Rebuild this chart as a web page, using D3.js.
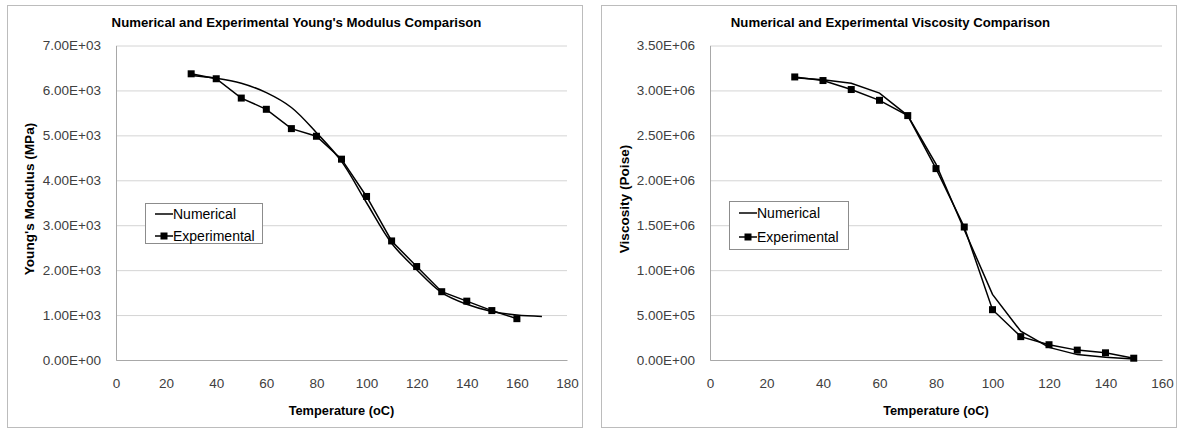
<!DOCTYPE html>
<html>
<head>
<meta charset="utf-8">
<script src="https://cdn.jsdelivr.net/npm/d3@7"></script>
<style>
  body { margin: 0; background: #fff; }
  svg { font-family: "Liberation Sans", Arial, sans-serif; }
  .titulo { font-weight: bold; font-size: 13.2px; fill: #000; }
  .tituloEixo { font-weight: bold; font-size: 12.8px; fill: #000; }
  .tituloEixoY { font-size: 13.6px; }
  .legenda text { font-size: 14px; fill: #000; }
</style>
</head>
<body>
<svg id="grafico"></svg>
<script>
// Young's modulus (MPa)
const tempExpModulo = [30, 40, 50, 60, 70, 80, 90, 100, 110, 120, 130, 140, 150, 160];
const moduloExp = [6370, 6260, 5830, 5580, 5150, 4980, 4470, 3640, 2650, 2080, 1520, 1310, 1100, 920];
const tempNumModulo = [30, 40, 50, 60, 70, 80, 90, 100, 110, 120, 130, 140, 150, 160, 170];
const moduloNum = [6330, 6270, 6160, 5950, 5620, 5060, 4420, 3500, 2600, 2010, 1500, 1240, 1080, 1000, 970];

// Viscosity (Poise)
const tempExpVisc = [30, 40, 50, 60, 70, 80, 90, 100, 110, 120, 130, 140, 150];
const viscExp = [3.15e6, 3.11e6, 3.01e6, 2.89e6, 2.72e6, 2.13e6, 1.48e6, 5.6e5, 2.6e5, 1.7e5, 1.1e5, 8.0e4, 2.0e4];
const tempNumVisc = [30, 40, 50, 60, 70, 80, 90, 100, 110, 120, 130, 140, 150];
const viscNum = [3.14e6, 3.12e6, 3.08e6, 2.97e6, 2.72e6, 2.18e6, 1.45e6, 7.3e5, 3.2e5, 1.4e5, 6.0e4, 3.0e4, 1.0e4];

const ticksXModulo = [0, 20, 40, 60, 80, 100, 120, 140, 160, 180];
const ticksYModulo = [0, 1000, 2000, 3000, 4000, 5000, 6000, 7000];
const ticksXVisc = [0, 20, 40, 60, 80, 100, 120, 140, 160];
const ticksYVisc = [0, 5e5, 1e6, 1.5e6, 2e6, 2.5e6, 3e6, 3.5e6];

const nomesSeries = ['Numerical', 'Experimental'];

function formataE(v) {
  const partes = v.toExponential(2).split('e');
  const sinal = partes[1][0];
  const exp = partes[1].slice(1).padStart(2, '0');
  return partes[0] + 'E' + sinal + exp;
}

const svg = d3.select('#grafico').attr('width', 1181).attr('height', 430);

function ajustaTexto(s) {
  s.attr('font-family', null).attr('font-size', null);
  s.selectAll('text').attr('font-size', 13.5).attr('fill', '#404040');
}

function criaGrafico(p) {
  const g = svg.append('g');

  // moldura
  g.append('rect')
    .attr('x', p.moldura[0] + .5).attr('y', 5.5)
    .attr('width', p.moldura[1] - p.moldura[0]).attr('height', 422)
    .attr('fill', '#fff').attr('stroke', '#bcbcbc');

  const x = d3.scaleLinear().domain([0, d3.max(p.ticksX)]).range([p.esquerda, p.direita]);
  const y = d3.scaleLinear().domain([0, d3.max(p.ticksY)]).range([360, 45.5]);

  const grade = d3.axisLeft(y).tickValues(p.ticksY).tickSize(-(p.direita - p.esquerda)).tickFormat('');
  g.append('g').attr('transform', `translate(${p.esquerda},0)`).call(grade)
    .call(s => s.select('.domain').remove())
    .call(s => s.selectAll('line').attr('stroke', '#d4d4d4'));

  const eixoY = d3.axisLeft(y).tickValues(p.ticksY).tickSize(0).tickPadding(15).tickFormat(formataE);
  g.append('g').attr('transform', `translate(${p.esquerda},0)`).call(eixoY)
    .call(s => s.select('.domain').attr('stroke', '#a8a8a8'))
    .call(ajustaTexto);

  const eixoX = d3.axisBottom(x).tickValues(p.ticksX).tickSize(0).tickPadding(18).tickFormat(d3.format('d'));
  g.append('g').attr('transform', 'translate(0,360)').call(eixoX)
    .call(s => s.select('.domain').attr('stroke', '#a8a8a8'))
    .call(ajustaTexto);

  const num = p.tempNum.map((t, i) => [t, p.valNum[i]]);
  const exp = p.tempExp.map((t, i) => [t, p.valExp[i]]);

  const linhaNum = d3.line().x(d => x(d[0])).y(d => y(d[1]))
    .curve(p.suave ? d3.curveCatmullRom.alpha(.5) : d3.curveLinear);
  const linhaExp = d3.line().x(d => x(d[0])).y(d => y(d[1]));

  g.append('path').datum(num)
    .attr('d', linhaNum)
    .attr('fill', 'none').attr('stroke', '#000').attr('stroke-width', 1.5);

  g.append('path').datum(exp)
    .attr('d', linhaExp)
    .attr('fill', 'none').attr('stroke', '#000').attr('stroke-width', 1.5);

  g.selectAll('.marca').data(exp).enter().append('rect')
    .classed('marca', true)
    .attr('x', d => x(d[0]) - 3.5).attr('y', d => y(d[1]) - 3.5)
    .attr('width', 7).attr('height', 7).attr('fill', '#000');

  // titulos
  g.append('text').classed('titulo', true)
    .attr('x', (p.moldura[0] + p.moldura[1]) / 2 + 2).attr('y', 27)
    .style('text-anchor', 'middle').text(p.titulo);

  g.append('text').classed('tituloEixo', true)
    .attr('x', (p.esquerda + p.direita) / 2).attr('y', 415)
    .style('text-anchor', 'middle').text(p.tituloX);

  g.append('text').classed('tituloEixo tituloEixoY', true)
    .attr('transform', `translate(${p.posTituloY}, 199) rotate(-90)`)
    .attr('dy', '0.35em')
    .style('text-anchor', 'middle').text(p.tituloY);

  // legenda
  const leg = g.append('g').classed('legenda', true)
    .attr('transform', `translate(${p.legenda[0]}, ${p.legenda[1]})`);
  leg.append('rect').attr('x', .5).attr('y', .5)
    .attr('width', p.legenda[2]).attr('height', p.legenda[3])
    .attr('fill', '#fff').attr('stroke', '#8c8c8c');

  nomesSeries.forEach((nome, i) => {
    const ly = p.legenda[4] + i * p.legenda[5];
    leg.append('line').attr('x1', 10).attr('x2', 28).attr('y1', ly).attr('y2', ly)
      .attr('stroke', '#000').attr('stroke-width', 1.5);
    if (i === 1) {
      leg.append('rect').attr('x', 15.5).attr('y', ly - 3.5).attr('width', 7).attr('height', 7).attr('fill', '#000');
    }
    leg.append('text').attr('x', 28).attr('y', ly).attr('dy', '0.35em').text(nome);
  });
}

criaGrafico({
  moldura: [7, 582],
  esquerda: 116,
  direita: 567,
  ticksX: ticksXModulo,
  ticksY: ticksYModulo,
  tempNum: tempNumModulo,
  valNum: moduloNum,
  tempExp: tempExpModulo,
  valExp: moduloExp,
  suave: true,
  titulo: "Numerical and Experimental Young's Modulus Comparison",
  tituloX: 'Temperature (oC)',
  tituloY: "Young's Modulus (MPa)",
  posTituloY: 29,
  legenda: [145, 203, 117, 40, 11, 22]
});

criaGrafico({
  moldura: [601, 1176],
  esquerda: 710,
  direita: 1162,
  ticksX: ticksXVisc,
  ticksY: ticksYVisc,
  tempNum: tempNumVisc,
  valNum: viscNum,
  tempExp: tempExpVisc,
  valExp: viscExp,
  suave: false,
  titulo: 'Numerical and Experimental Viscosity Comparison',
  tituloX: 'Temperature (oC)',
  tituloY: 'Viscosity (Poise)',
  posTituloY: 624,
  legenda: [729, 201, 119, 48, 12, 24]
});
</script>
</body>
</html>
